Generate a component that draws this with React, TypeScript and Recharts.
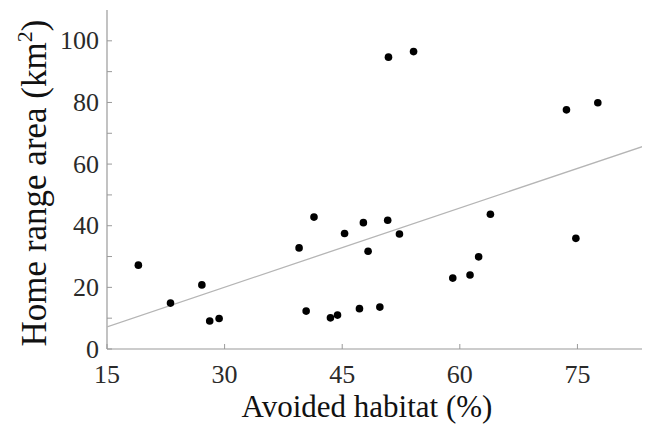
import React from 'react';
import { ScatterChart, Scatter, XAxis, YAxis } from 'recharts';

// values
const avoidedHabitat = [
  19.0, 23.1, 27.1, 28.1, 29.3, 39.5, 40.4, 41.4, 43.5, 44.4, 45.3, 47.2, 47.7,
  48.3, 49.8, 50.8, 50.9, 52.3, 54.1, 59.1, 61.3, 62.4, 63.9, 73.6, 74.8, 77.6,
];
const homeRange = [
  27.2, 14.9, 20.8, 9.1, 9.9, 32.8, 12.3, 42.8, 10.1, 11.0, 37.5, 13.1, 41.0,
  31.7, 13.6, 41.8, 94.7, 37.3, 96.5, 23.0, 24.0, 29.9, 43.7, 77.6, 35.9, 79.9,
];
// fitted line end points
const fitX = [15, 84];
const fitY = [7.2, 66.3];

const xTicks = [15, 30, 45, 60, 75];
const yTicks = [0, 10, 20, 30, 40, 50, 60, 70, 80, 90, 100];

const points = avoidedHabitat.map((x, i) => ({ x, y: homeRange[i] }));
const fitLine = fitX.map((x, i) => ({ x, y: fitY[i] }));

const FONT = '"Liberation Serif", "Times New Roman", serif';
const AXIS = '#9a9a9a';
const TICK_TEXT = '#2a2a2a';

const YTick = (props: any) => {
  const { x, y, payload } = props;
  const showLabel = payload.value % 20 === 0;
  return (
    <g>
      <line x1={x} x2={x + 5} y1={y} y2={y} stroke={AXIS} strokeWidth={1} />
      {showLabel && (
        <text x={x - 8} y={y} dy="0.33em" textAnchor="end" fontFamily={FONT} fontSize={26} fill={TICK_TEXT}>
          {payload.value}
        </text>
      )}
    </g>
  );
};

const XTick = (props: any) => {
  const { x, y, payload } = props;
  return (
    <g>
      <line x1={x} x2={x} y1={y} y2={y - 5} stroke={AXIS} strokeWidth={1} />
      <text x={x} y={y + 34} textAnchor="middle" fontFamily={FONT} fontSize={26} fill={TICK_TEXT}>
        {payload.value}
      </text>
    </g>
  );
};

const XLabel = () => (
  <text x={359} y={409} textAnchor="middle" fontFamily={FONT} fontSize={31} fill="#111">
    Avoided habitat (%)
  </text>
);

const YLabel = () => (
  <text
    x={38}
    y={175}
    transform="rotate(-90 38 175)"
    textAnchor="middle"
    fontFamily={FONT}
    fontSize={35}
    fill="#111"
  >
    Home range area (km
    <tspan fontSize={22} dy={-14}>2</tspan>
    <tspan dy={14}>)</tspan>
  </text>
);

const Dot = (props: any) => <circle cx={props.cx} cy={props.cy} r={3.8} fill="#000" />;

export default function App() {
  return (
    <div style={{ width: 642, height: 417 }}>
      <ScatterChart width={642} height={417} margin={{ top: 2, right: 2, left: 0, bottom: 0 }}>
        <XAxis
          type="number"
          dataKey="x"
          domain={[15, 84]}
          ticks={xTicks}
          allowDataOverflow
          height={76}
          tickSize={0}
          tickMargin={0}
          tickLine={false}
          axisLine={{ stroke: AXIS, strokeWidth: 1.2 }}
          tick={<XTick />}
          label={<XLabel />}
        />
        <YAxis
          type="number"
          dataKey="y"
          domain={[0, 110]}
          ticks={yTicks}
          allowDataOverflow
          width={99}
          tickSize={0}
          tickMargin={0}
          tickLine={false}
          axisLine={{ stroke: AXIS, strokeWidth: 1.2 }}
          tick={<YTick />}
          label={<YLabel />}
        />
        <Scatter
          data={fitLine}
          line={{ stroke: '#b5b5b5', strokeWidth: 1.3 }}
          shape={() => null}
          isAnimationActive={false}
        />
        <Scatter data={points} shape={<Dot />} isAnimationActive={false} />
      </ScatterChart>
    </div>
  );
}
